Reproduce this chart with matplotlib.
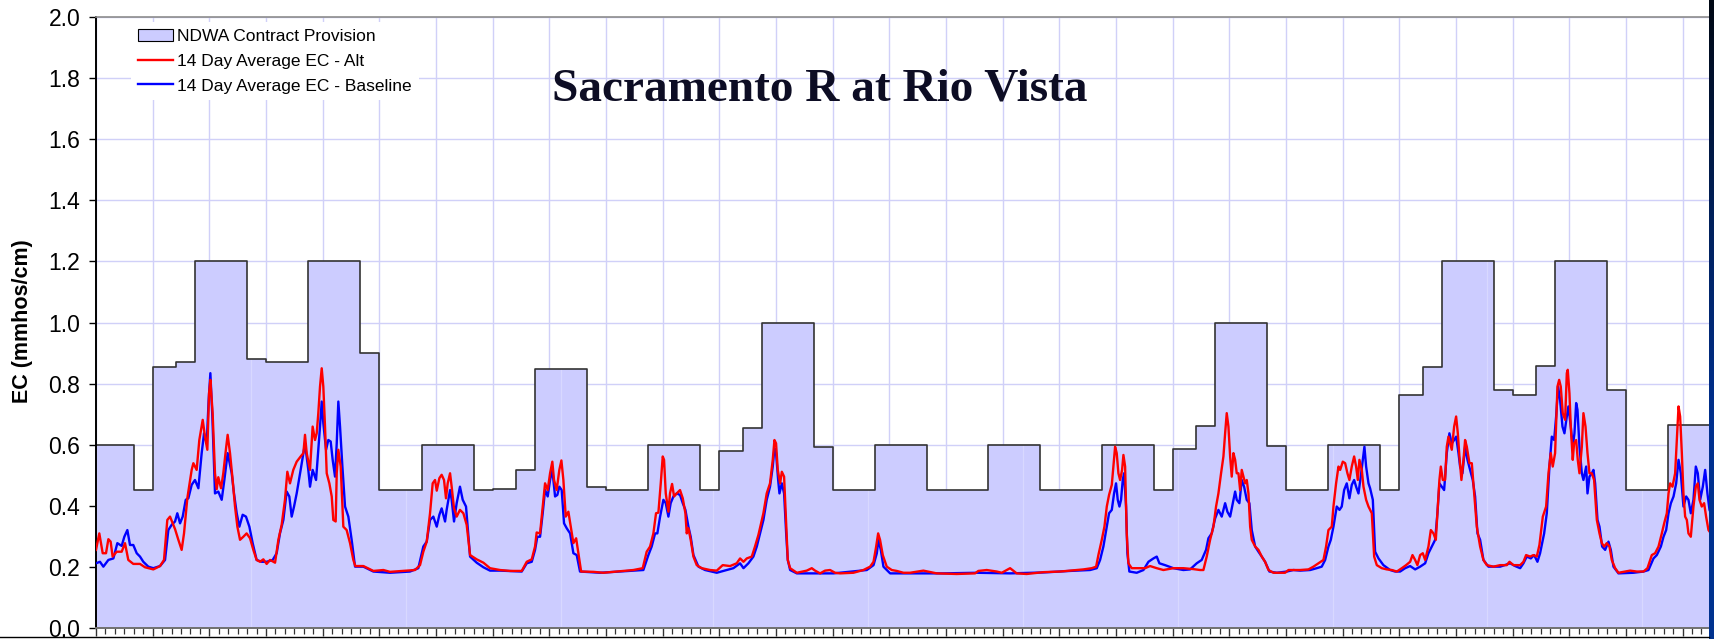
import matplotlib.pyplot as plt
import numpy as np
from matplotlib.lines import Line2D
from matplotlib.patches import Patch
from matplotlib.colors import LinearSegmentedColormap

# x axis unit: months from the start of the record
# NDWA contract provision, step function: start month of each step and its EC
step_start = [0, 4, 6, 8.5, 10.5, 16, 18, 22.5, 28, 30, 34.5, 40, 42, 44.5, 46.5,
              52, 54, 58.5, 64, 66, 68.5, 70.5, 76, 78, 82.5, 88, 94.5, 100, 106.5,
              112, 114, 116.5, 118.5, 124, 126, 130.5, 136, 138, 140.5, 142.5, 148,
              150, 152.5, 154.5, 160, 162, 166.5]
step_ec = [0.60, 0.45, 0.855, 0.87, 1.20, 0.88, 0.87, 1.20, 0.90, 0.45, 0.60, 0.45,
           0.455, 0.518, 0.849, 0.46, 0.45, 0.60, 0.45, 0.58, 0.654, 1.0, 0.591, 0.45,
           0.60, 0.45, 0.60, 0.45, 0.60, 0.45, 0.585, 0.661, 1.0, 0.596, 0.45, 0.60,
           0.45, 0.761, 0.853, 1.20, 0.778, 0.761, 0.856, 1.20, 0.778, 0.45, 0.665]
step_end = 172

# 14 day average EC - Alt (month, EC)
alt_ec = [
    (0.00, 0.255), (0.35, 0.309), (0.71, 0.244), (1.06, 0.244), (1.31, 0.290), (1.55, 0.282),
    (1.76, 0.233), (2.19, 0.249), (2.72, 0.249), (3.07, 0.277), (3.42, 0.222), (3.95, 0.209),
    (4.66, 0.209), (5.19, 0.198), (6.07, 0.191), (6.78, 0.202), (7.20, 0.222), (7.55, 0.353),
    (7.84, 0.364), (8.37, 0.323), (8.72, 0.288), (9.07, 0.255), (9.32, 0.309), (9.67, 0.424),
    (10.13, 0.517), (10.31, 0.539), (10.66, 0.517), (10.94, 0.615), (11.30, 0.681), (11.54, 0.626),
    (11.79, 0.583), (11.97, 0.768), (12.11, 0.812), (12.35, 0.703), (12.60, 0.506), (12.78, 0.454),
    (12.95, 0.493), (13.24, 0.457), (13.48, 0.506), (13.77, 0.588), (13.94, 0.632), (14.19, 0.572),
    (14.47, 0.484), (14.72, 0.397), (14.97, 0.331), (15.25, 0.288), (15.60, 0.298), (15.95, 0.309),
    (16.31, 0.293), (16.66, 0.255), (17.01, 0.222), (17.37, 0.216), (17.72, 0.224), (18.07, 0.209),
    (18.43, 0.222), (18.96, 0.213), (19.31, 0.288), (19.66, 0.337), (20.01, 0.419), (20.26, 0.511),
    (20.54, 0.473), (20.89, 0.517), (21.25, 0.544), (21.67, 0.561), (21.96, 0.572), (22.13, 0.632),
    (22.31, 0.572), (22.66, 0.517), (22.94, 0.659), (23.19, 0.615), (23.37, 0.637), (23.54, 0.703),
    (23.72, 0.790), (23.90, 0.850), (24.07, 0.790), (24.25, 0.659), (24.43, 0.506), (24.71, 0.473),
    (24.96, 0.430), (25.13, 0.353), (25.38, 0.348), (25.49, 0.506), (25.66, 0.583), (25.91, 0.528),
    (26.19, 0.331), (26.54, 0.320), (26.90, 0.277), (27.25, 0.222), (27.46, 0.202), (28.31, 0.202),
    (29.37, 0.186), (30.43, 0.189), (31.13, 0.183), (32.54, 0.186), (33.78, 0.189), (34.31, 0.205),
    (34.66, 0.249), (35.02, 0.282), (35.37, 0.375), (35.65, 0.473), (35.90, 0.484), (36.08, 0.449),
    (36.36, 0.490), (36.60, 0.501), (36.85, 0.484), (37.06, 0.424), (37.24, 0.473), (37.49, 0.506),
    (37.66, 0.462), (37.91, 0.391), (38.19, 0.364), (38.54, 0.386), (38.90, 0.375), (39.25, 0.337),
    (39.61, 0.238), (40.31, 0.224), (41.02, 0.213), (41.72, 0.195),
    (42.78, 0.189), (43.84, 0.186), (45.08, 0.186), (45.61, 0.216), (46.14, 0.224), (46.49, 0.266),
    (46.66, 0.312), (47.02, 0.309), (47.30, 0.397), (47.55, 0.473), (47.83, 0.451), (48.08, 0.506),
    (48.32, 0.544), (48.50, 0.484), (48.78, 0.451), (49.06, 0.517), (49.28, 0.548), (49.49, 0.484),
    (49.74, 0.364), (50.02, 0.380), (50.27, 0.331), (50.55, 0.277), (50.84, 0.293), (51.08, 0.244),
    (51.37, 0.184), (52.67, 0.183), (53.73, 0.180), (55.14, 0.184), (56.90, 0.189), (57.89, 0.195),
    (58.31, 0.249), (58.67, 0.266), (59.02, 0.309), (59.30, 0.375), (59.55, 0.377), (59.80, 0.473),
    (60.01, 0.561), (60.15, 0.550), (60.33, 0.440), (60.61, 0.380), (60.78, 0.440), (61.00, 0.471),
    (61.21, 0.430), (61.49, 0.440), (61.84, 0.451), (62.13, 0.424), (62.41, 0.375), (62.55, 0.309),
    (62.73, 0.326), (62.97, 0.288), (63.26, 0.233), (63.61, 0.205), (64.14, 0.195), (65.02, 0.189),
    (65.73, 0.187), (66.36, 0.205), (67.14, 0.202), (67.84, 0.211), (68.20, 0.227), (68.56, 0.216),
    (68.91, 0.227), (69.44, 0.233), (69.78, 0.266), (70.14, 0.304), (70.67, 0.375), (71.02, 0.440),
    (71.37, 0.473), (71.66, 0.550), (71.84, 0.615), (72.01, 0.604), (72.19, 0.517), (72.44, 0.473),
    (72.62, 0.511), (72.86, 0.495), (73.08, 0.342), (73.25, 0.222), (73.50, 0.195), (74.21, 0.180),
    (75.26, 0.187), (75.79, 0.195), (76.14, 0.187), (76.67, 0.178), (77.20, 0.187), (77.73, 0.189),
    (78.26, 0.180), (78.79, 0.178), (80.20, 0.180), (81.26, 0.189), (81.97, 0.200), (82.33, 0.216),
    (82.61, 0.266), (82.82, 0.309), (83.02, 0.288), (83.31, 0.238), (83.73, 0.200), (84.26, 0.189),
    (84.79, 0.186), (85.50, 0.180),
    (86.20, 0.180), (87.61, 0.187), (89.02, 0.178), (91.14, 0.176), (93.08, 0.178), (93.43, 0.186),
    (94.32, 0.189), (95.38, 0.184), (95.91, 0.180), (96.79, 0.195), (97.49, 0.178), (98.55, 0.176),
    (100.32, 0.182), (102.08, 0.184), (103.14, 0.187), (104.55, 0.191), (105.44, 0.195), (105.90, 0.200),
    (106.14, 0.238), (106.50, 0.288), (106.78, 0.331), (107.03, 0.397), (107.27, 0.435), (107.56, 0.468),
    (107.73, 0.528), (107.91, 0.593), (108.08, 0.572), (108.26, 0.506), (108.44, 0.484), (108.65, 0.517),
    (108.79, 0.566), (108.97, 0.528), (109.14, 0.309), (109.32, 0.211), (109.67, 0.195), (110.55, 0.195),
    (111.08, 0.195), (111.61, 0.202), (112.32, 0.195), (113.02, 0.189), (114.08, 0.195), (115.14, 0.195),
    (116.20, 0.192), (116.91, 0.189), (117.26, 0.189), (117.61, 0.233), (117.97, 0.288), (118.32, 0.331),
    (118.60, 0.397), (118.85, 0.440), (119.13, 0.506), (119.38, 0.561), (119.56, 0.637), (119.73, 0.703),
    (119.91, 0.659), (120.09, 0.561), (120.26, 0.495), (120.44, 0.572), (120.62, 0.550), (120.79, 0.506),
    (120.97, 0.506), (121.15, 0.451), (121.32, 0.517), (121.50, 0.495), (121.68, 0.473), (121.85, 0.484),
    (122.03, 0.440), (122.21, 0.331), (122.38, 0.288), (122.74, 0.266), (123.09, 0.255), (123.44, 0.233),
    (123.79, 0.216), (124.15, 0.189), (124.68, 0.180), (125.91, 0.180), (126.27, 0.189), (127.15, 0.189),
    (127.50, 0.189), (128.38, 0.191), (128.91, 0.200), (129.44, 0.211), (129.97, 0.222), (130.25, 0.266),
    (130.50, 0.320), (130.85, 0.331), (131.03, 0.397), (131.31, 0.473), (131.56, 0.528), (131.74, 0.517),
    (132.02, 0.544), (132.27, 0.539), (132.51, 0.506), (132.72, 0.484), (132.97, 0.528), (133.22, 0.561),
    (133.43, 0.528), (133.61, 0.484), (133.78, 0.550), (134.03, 0.517), (134.21, 0.462), (134.49, 0.419),
    (134.74, 0.397), (135.09, 0.375), (135.34, 0.233), (135.62, 0.205), (136.15, 0.195), (136.68, 0.191),
    (137.21, 0.189), (137.74, 0.184), (138.27, 0.195), (138.72, 0.205), (139.15, 0.216), (139.40, 0.238),
    (139.68, 0.222), (139.92, 0.205), (140.21, 0.238), (140.49, 0.244), (140.74, 0.222), (141.09, 0.266),
    (141.34, 0.320), (141.62, 0.309), (141.87, 0.288), (142.08, 0.397), (142.25, 0.484), (142.40, 0.528),
    (142.61, 0.484), (142.85, 0.484), (143.03, 0.593), (143.21, 0.626), (143.38, 0.604), (143.56, 0.583),
    (143.81, 0.659), (144.02, 0.692), (144.20, 0.637), (144.37, 0.561), (144.58, 0.484), (144.80, 0.550),
    (144.97, 0.615), (145.15, 0.593), (145.43, 0.539), (145.68, 0.539), (145.93, 0.440), (146.21, 0.331),
    (146.56, 0.266), (146.91, 0.222), (147.27, 0.205), (147.97, 0.200), (148.68, 0.205), (149.38, 0.205),
    (149.67, 0.216), (150.09, 0.205), (150.80, 0.205), (151.15, 0.216), (151.43, 0.238), (151.86, 0.233),
    (152.21, 0.238), (152.56, 0.233), (152.84, 0.271), (153.20, 0.364), (153.55, 0.397), (153.80, 0.506),
    (154.04, 0.572), (154.25, 0.528), (154.50, 0.572), (154.75, 0.790), (154.93, 0.812), (155.10, 0.790),
    (155.31, 0.703), (155.56, 0.681), (155.74, 0.834), (155.84, 0.845), (156.02, 0.768), (156.16, 0.659),
    (156.37, 0.550), (156.51, 0.604), (156.73, 0.615), (156.90, 0.550), (157.08, 0.506), (157.33, 0.593),
    (157.50, 0.703), (157.72, 0.659), (157.93, 0.572), (158.14, 0.506), (158.39, 0.506), (158.63, 0.484),
    (158.92, 0.353), (159.20, 0.309), (159.45, 0.277), (159.69, 0.266), (159.97, 0.277), (160.26, 0.266),
    (160.50, 0.222), (160.86, 0.195), (161.21, 0.180), (161.92, 0.184), (162.44, 0.187), (163.15, 0.184),
    (163.86, 0.184), (164.28, 0.195), (164.74, 0.238), (165.09, 0.244), (165.45, 0.266), (165.80, 0.309),
    (166.05, 0.342), (166.33, 0.375), (166.51, 0.440), (166.68, 0.473), (166.93, 0.462), (167.21, 0.506),
    (167.39, 0.615), (167.57, 0.725), (167.74, 0.692), (167.92, 0.572), (168.09, 0.440), (168.27, 0.364),
    (168.45, 0.353), (168.62, 0.309), (168.87, 0.298), (169.15, 0.397), (169.40, 0.462), (169.61, 0.473),
    (169.79, 0.419), (170.03, 0.397), (170.28, 0.408), (170.49, 0.364), (170.74, 0.320), (171.20, 0.300),
]

# 14 day average EC - Baseline (month, EC)
baseline_ec = [
    (0.00, 0.211), (0.42, 0.216), (0.78, 0.200), (1.31, 0.222), (1.84, 0.227), (2.26, 0.277),
    (2.72, 0.268), (3.00, 0.298), (3.32, 0.320), (3.60, 0.271), (3.95, 0.271), (4.31, 0.244),
    (4.66, 0.233), (5.01, 0.216), (5.54, 0.200), (6.07, 0.195), (6.78, 0.202), (7.31, 0.222),
    (7.66, 0.320), (8.01, 0.337), (8.37, 0.348), (8.61, 0.375), (8.90, 0.342), (9.18, 0.364),
    (9.50, 0.419), (9.78, 0.424), (10.13, 0.468), (10.48, 0.484), (10.84, 0.457), (11.19, 0.572),
    (11.44, 0.637), (11.72, 0.604), (11.93, 0.746), (12.11, 0.834), (12.32, 0.692), (12.60, 0.440),
    (12.95, 0.446), (13.31, 0.419), (13.59, 0.484), (13.94, 0.572), (14.37, 0.506), (14.61, 0.440),
    (14.90, 0.375), (15.18, 0.331), (15.53, 0.370), (15.88, 0.364), (16.24, 0.331), (16.59, 0.277),
    (17.01, 0.222), (17.54, 0.216), (18.07, 0.216), (18.71, 0.222), (19.13, 0.244), (19.48, 0.309),
    (19.84, 0.353), (20.19, 0.446), (20.47, 0.430), (20.72, 0.364), (20.97, 0.397), (21.25, 0.440),
    (21.67, 0.517), (22.13, 0.604), (22.48, 0.517), (22.66, 0.462), (22.94, 0.517), (23.30, 0.484),
    (23.54, 0.583), (23.72, 0.659), (23.90, 0.741), (24.07, 0.670), (24.36, 0.583), (24.60, 0.615),
    (24.85, 0.610), (25.06, 0.550), (25.31, 0.495), (25.49, 0.604), (25.66, 0.741), (25.84, 0.659),
    (26.09, 0.528), (26.37, 0.397), (26.72, 0.364), (27.07, 0.288), (27.43, 0.200), (28.31, 0.200),
    (29.37, 0.184), (31.13, 0.180), (33.25, 0.184), (34.13, 0.195), (34.66, 0.266), (35.02, 0.282),
    (35.37, 0.353), (35.72, 0.364), (36.08, 0.331), (36.36, 0.370), (36.60, 0.391), (36.96, 0.348),
    (37.13, 0.386), (37.49, 0.451), (37.66, 0.419), (37.91, 0.348), (38.19, 0.408), (38.54, 0.462),
    (38.83, 0.419), (39.18, 0.397), (39.61, 0.233), (40.31, 0.213), (41.02, 0.198), (41.72, 0.187),
    (42.78, 0.187), (45.08, 0.184), (45.61, 0.211), (46.14, 0.216), (46.49, 0.255), (46.73, 0.298),
    (47.02, 0.298), (47.30, 0.375), (47.55, 0.451), (47.83, 0.430), (48.08, 0.484), (48.32, 0.517),
    (48.61, 0.430), (48.85, 0.435), (49.06, 0.462), (49.31, 0.451), (49.56, 0.342), (49.84, 0.326),
    (50.20, 0.309), (50.55, 0.244), (50.90, 0.238), (51.25, 0.184), (53.38, 0.180), (56.90, 0.187),
    (57.96, 0.189), (58.49, 0.238), (58.84, 0.266), (59.20, 0.309), (59.44, 0.309), (59.73, 0.364),
    (60.08, 0.419), (60.33, 0.408), (60.61, 0.364), (60.85, 0.408), (61.14, 0.430), (61.49, 0.440),
    (61.84, 0.435), (62.13, 0.408), (62.41, 0.386), (62.73, 0.331), (62.97, 0.298), (63.26, 0.238),
    (63.79, 0.200), (64.49, 0.189), (65.73, 0.180), (67.49, 0.195), (68.20, 0.211), (68.56, 0.195),
    (69.08, 0.211), (69.61, 0.233), (69.97, 0.266), (70.32, 0.309), (70.67, 0.353), (71.02, 0.419),
    (71.37, 0.462), (71.66, 0.528), (71.84, 0.588), (72.01, 0.572), (72.23, 0.484), (72.37, 0.440),
    (72.62, 0.473), (72.86, 0.440), (73.08, 0.309), (73.25, 0.222), (73.50, 0.189), (74.21, 0.178),
    (78.09, 0.178), (81.62, 0.189), (82.33, 0.205), (82.68, 0.244), (82.85, 0.288), (83.10, 0.255),
    (83.38, 0.200), (84.09, 0.178),
    (86.20, 0.178), (89.73, 0.178), (93.26, 0.180), (96.79, 0.178), (100.32, 0.181), (103.14, 0.186),
    (105.26, 0.189), (105.97, 0.195), (106.32, 0.222), (106.67, 0.266), (107.03, 0.331), (107.27, 0.375),
    (107.56, 0.386), (107.80, 0.440), (108.01, 0.473), (108.19, 0.419), (108.37, 0.397), (108.54, 0.419),
    (108.72, 0.484), (108.86, 0.506), (109.07, 0.397), (109.21, 0.244), (109.42, 0.184), (110.20, 0.180),
    (110.91, 0.189), (111.44, 0.216), (111.97, 0.227), (112.32, 0.233), (112.60, 0.211), (113.20, 0.205),
    (114.08, 0.195), (115.14, 0.189), (115.85, 0.191), (116.55, 0.211), (117.08, 0.222), (117.54, 0.255),
    (117.79, 0.293), (118.14, 0.309), (118.50, 0.358), (118.85, 0.386), (119.20, 0.364), (119.56, 0.408),
    (119.80, 0.380), (120.09, 0.364), (120.37, 0.408), (120.62, 0.446), (120.79, 0.419), (121.07, 0.408),
    (121.32, 0.484), (121.57, 0.462), (121.85, 0.419), (122.13, 0.408), (122.38, 0.320), (122.74, 0.266),
    (123.09, 0.249), (123.44, 0.233), (123.79, 0.216), (124.25, 0.184), (125.03, 0.180), (126.09, 0.184),
    (126.79, 0.189),
    (127.50, 0.187), (128.56, 0.189), (129.26, 0.195), (129.79, 0.200), (130.15, 0.222), (130.50, 0.266),
    (130.75, 0.288), (131.03, 0.331), (131.38, 0.397), (131.67, 0.386), (131.91, 0.397), (132.16, 0.451),
    (132.44, 0.473), (132.72, 0.424), (132.97, 0.468), (133.22, 0.484), (133.43, 0.462), (133.68, 0.440),
    (133.92, 0.495), (134.14, 0.550), (134.31, 0.593), (134.49, 0.528), (134.74, 0.473), (134.91, 0.457),
    (135.20, 0.419), (135.44, 0.249), (135.80, 0.227), (136.32, 0.205), (137.03, 0.189), (137.56, 0.184),
    (138.09, 0.184), (138.62, 0.195), (139.15, 0.202), (139.68, 0.191), (140.21, 0.200), (140.74, 0.211),
    (141.09, 0.244), (141.44, 0.266), (141.80, 0.288), (142.04, 0.375), (142.25, 0.473), (142.50, 0.462),
    (142.75, 0.451), (143.03, 0.572), (143.31, 0.637), (143.56, 0.604), (143.81, 0.615), (144.02, 0.626),
    (144.27, 0.572), (144.44, 0.528), (144.69, 0.506), (144.97, 0.593), (145.22, 0.550), (145.50, 0.517),
    (145.78, 0.484), (146.03, 0.430), (146.28, 0.309), (146.56, 0.288), (146.91, 0.222), (147.44, 0.200),
    (148.68, 0.200), (149.74, 0.211), (150.27, 0.202), (150.80, 0.195), (151.15, 0.211), (151.50, 0.233),
    (151.93, 0.227), (152.28, 0.238), (152.63, 0.216), (152.91, 0.244), (153.34, 0.309), (153.62, 0.375),
    (153.90, 0.528), (154.15, 0.626), (154.40, 0.615), (154.61, 0.692), (154.82, 0.790), (155.03, 0.746),
    (155.28, 0.659), (155.49, 0.637), (155.74, 0.692), (155.91, 0.725), (156.16, 0.659), (156.37, 0.593),
    (156.55, 0.637), (156.73, 0.736), (156.87, 0.714), (157.08, 0.593), (157.33, 0.506), (157.50, 0.484),
    (157.79, 0.528), (157.93, 0.440), (158.14, 0.495), (158.39, 0.506), (158.56, 0.517), (158.74, 0.473),
    (158.99, 0.353), (159.20, 0.331), (159.48, 0.266), (159.80, 0.255), (160.15, 0.282), (160.40, 0.255),
    (160.68, 0.200), (161.21, 0.178), (162.80, 0.180), (163.86, 0.184), (164.39, 0.189), (164.92, 0.227),
    (165.27, 0.238), (165.70, 0.266), (165.98, 0.298), (166.26, 0.320), (166.51, 0.375), (166.76, 0.408),
    (167.04, 0.430), (167.32, 0.473), (167.57, 0.550), (167.81, 0.506), (168.09, 0.397), (168.38, 0.430),
    (168.62, 0.419), (168.87, 0.375), (169.15, 0.419), (169.40, 0.528), (169.61, 0.506), (169.86, 0.419),
    (170.14, 0.462), (170.39, 0.517), (170.63, 0.440), (170.85, 0.386), (171.20, 0.360),
]

# faint seams visible inside the shaded area of the original
seam_month = [16.38, 32.83, 49.24, 65.33, 81.74, 98.16, 114.57, 130.98, 147.29, 163.70]

plt.rcParams['font.family'] = ['Liberation Sans', 'DejaVu Sans']

W, H = 1714, 639
fig = plt.figure(figsize=(W / 100, H / 100), dpi=100)
ax = fig.add_axes([96 / W, 1 - 627.7 / H, 1613 / W, 610.4 / H])

# contract provision (shaded steps)
edges = step_start + [step_end]
levels = step_ec + [step_ec[-1]]
poly = ax.fill_between(edges, levels, 0, step='post', facecolor='#CCCCFF',
                       edgecolor='none', zorder=1)
clip = poly.get_paths()[0]
for m in seam_month:
    seam, = ax.plot([m, m], [0, 2], color='#D8D8FF', lw=0.9, zorder=1.5)
    seam.set_clip_path(clip, ax.transData)
ax.step(edges, levels, where='post', color='#333333', lw=1.2, zorder=2)

bx, by = zip(*baseline_ec)
axx, ayy = zip(*alt_ec)
ax.plot(bx, by, color='#0000FF', lw=1.7, zorder=3)
ax.plot(axx, ayy, color='#FF0000', lw=1.7, zorder=4)

ax.set_xlim(0, 1613 / 9.444)
ax.set_ylim(0, 2.0)
ax.set_xticks(np.arange(0, 171, 6))
ax.set_xticks(np.arange(0, 171, 1), minor=True)
ax.set_yticks(np.arange(0, 2.01, 0.2))
ax.set_yticklabels(['%.1f' % v for v in np.arange(0, 2.01, 0.2)])
ax.tick_params(axis='x', which='both', labelbottom=False, direction='out', color='#333333')
ax.tick_params(axis='x', which='major', length=5.8, width=1.0)
ax.tick_params(axis='x', which='minor', length=4.1, width=0.9)
ax.tick_params(axis='y', length=5.3, width=1.0, pad=6, labelsize=16.5, colors='black')

ax.set_axisbelow(True)
ax.grid(True, which='major', color='#D0D0F8', lw=1.0)

ax.spines['right'].set_visible(False)
ax.spines['top'].set_color('#8C8C8C')
ax.spines['top'].set_linewidth(1.2)
ax.spines['left'].set_color('black')
ax.spines['left'].set_linewidth(1.4)
ax.spines['bottom'].set_color('#707070')
ax.spines['bottom'].set_linewidth(1.4)

fig.text(820 / W, 1 - 100.5 / H, 'Sacramento R at Rio Vista', family='Liberation Serif',
         fontweight='bold', fontsize=34, ha='center', va='baseline', color='#0D0D24')
fig.text(22.5 / W, 1 - 321 / H, 'EC (mmhos/cm)', rotation=90, fontsize=15.5,
         fontweight='bold', ha='center', va='center')

handles = [Patch(facecolor='#CCCCFF', edgecolor='black', lw=0.8),
           Line2D([], [], color='#FF0000', lw=1.7),
           Line2D([], [], color='#0000FF', lw=1.7)]
labels = ['NDWA Contract Provision', '14 Day Average EC - Alt', '14 Day Average EC - Baseline']
leg = ax.legend(handles, labels, loc='upper left', bbox_to_anchor=(131 / W, 1 - 22 / H),
                bbox_transform=fig.transFigure, fontsize=12.5, frameon=True, fancybox=False,
                framealpha=1, facecolor='white', edgecolor='none', borderpad=0.4,
                borderaxespad=0, handlelength=2.0, handletextpad=0.25, labelspacing=0.55)
leg.set_zorder(6)

# dark slide edge on the right
strip = fig.add_axes([1709 / W, 0, 5 / W, 1])
cmap = LinearSegmentedColormap.from_list('edge', ['#000814', '#00205A', '#00308F', '#00338F'])
strip.imshow(np.linspace(0, 1, 200).reshape(-1, 1), aspect='auto', cmap=cmap)
strip.set_axis_off()

# black rule along the bottom
fig.add_artist(Line2D([0, 1709 / W], [1 - 637 / H, 1 - 637 / H], color='black', lw=1.0))

fig.savefig('out.png', dpi=100)
